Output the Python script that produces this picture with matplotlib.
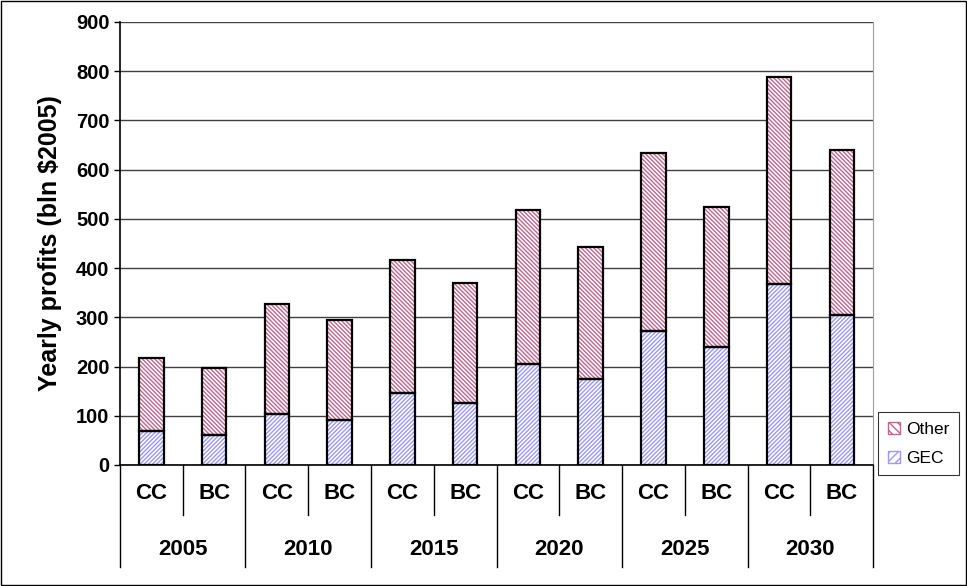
import numpy as np
import matplotlib.pyplot as plt

years = ["2005", "2010", "2015", "2020", "2025", "2030"]
cases = ["CC", "BC"]
gec = [70, 60, 103, 92, 147, 125, 205, 175, 273, 240, 367, 305]
total = [218, 197, 327, 295, 417, 370, 518, 442, 633, 525, 788, 640]
other = [t - g for t, g in zip(total, gec)]

plt.rcParams['font.family'] = ['Liberation Sans', 'DejaVu Sans']
plt.rcParams['hatch.linewidth'] = 1.0

fig = plt.figure(figsize=(9.67, 5.86), dpi=100)
ax = fig.add_axes([0.124, 0.2065, 0.779, 0.756])

x = np.arange(len(gec))
w = 0.39
gec_col = "#9999ff"
oth_col = "#c0668f"
h_g = "/" * 8
h_o = "\\" * 8

# hatch colour follows edge colour, so draw hatch first and outline on top
ax.bar(x, gec, w, color="white", edgecolor=gec_col, hatch=h_g, linewidth=0, zorder=3)
ax.bar(x, other, w, bottom=gec, color="white", edgecolor=oth_col, hatch=h_o, linewidth=0, zorder=3)
ax.bar(x, gec, w, fill=False, edgecolor="black", linewidth=1.6, zorder=4)
ax.bar(x, other, w, bottom=gec, fill=False, edgecolor="black", linewidth=1.6, zorder=4)

ax.set_xlim(-0.5, len(gec) - 0.5)
ax.set_ylim(0, 900)
ax.set_yticks(np.arange(0, 901, 100))
ax.yaxis.grid(True, color="#404040", linewidth=1)
ax.set_axisbelow(True)
for lab in ax.get_yticklabels():
    lab.set_fontweight("bold")
ax.tick_params(axis="y", labelsize=14.5, length=4, width=1)
ax.set_xticks([])
ax.set_ylabel("Yearly profits (bln $2005)", fontsize=18, fontweight="bold", labelpad=10)
ax.spines["top"].set_visible(False)
ax.spines["right"].set_color("#a0a0a0")
ax.spines["left"].set_linewidth(1.2)
ax.spines["bottom"].set_linewidth(1.2)

# two-level category axis
trans = ax.get_xaxis_transform()
for i in range(len(gec)):
    ax.text(i, -0.065, cases[i % 2], transform=trans, ha="center", va="center",
            fontsize=16, fontweight="bold")
for j, yr in enumerate(years):
    ax.text(2 * j + 0.5, -0.19, yr, transform=trans, ha="center", va="center",
            fontsize=16, fontweight="bold")
for k in range(len(gec) + 1):
    b = k - 0.5
    low = -0.23 if k % 2 == 0 else -0.113
    ax.plot([b, b], [0, low], transform=trans, color="black", linewidth=1, clip_on=False)

h_other = plt.Rectangle((0, 0), 1, 1, facecolor="white", edgecolor=oth_col, hatch="\\\\\\\\")
h_gec = plt.Rectangle((0, 0), 1, 1, facecolor="white", edgecolor=gec_col, hatch="////")
leg = fig.legend([h_other, h_gec], ["Other", "GEC"], loc="lower right",
                 bbox_to_anchor=(0.997, 0.18), fontsize=12.5, frameon=True, fancybox=False,
                 edgecolor="black", handlelength=0.7, handleheight=0.7, handletextpad=0.35,
                 labelspacing=0.8, borderpad=0.55, borderaxespad=0.3)
leg.get_frame().set_linewidth(0.8)

fig.patches.append(plt.Rectangle((0.001, 0.001), 0.998, 0.998, transform=fig.transFigure,
                                 fill=False, edgecolor="black", linewidth=1))

fig.savefig("out.png", dpi=100)
